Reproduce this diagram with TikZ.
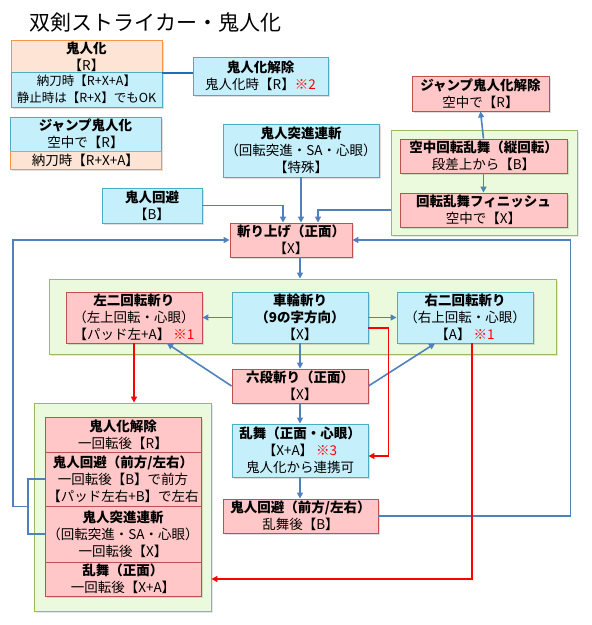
\documentclass[tikz,border=0pt]{standalone}
\usepackage{fontspec}
\setmainfont{Noto Sans CJK JP}
\usepackage{tikz}
\usetikzlibrary{arrows.meta,shadows}
\usepackage{xcolor}

\definecolor{boxpink}{RGB}{255,199,199}
\definecolor{boxred}{RGB}{192,80,77}
\definecolor{boxblue}{RGB}{198,239,252}
\definecolor{boxcyan}{RGB}{75,172,198}
\definecolor{boxorange}{RGB}{253,228,212}
\definecolor{boxamber}{RGB}{247,150,70}
\definecolor{grpfill}{RGB}{235,250,220}
\definecolor{grpline}{RGB}{155,187,89}
\definecolor{arrowblue}{RGB}{79,129,189}
\definecolor{linkblue}{RGB}{31,110,185}

\tikzset{
  box/.style={align=center, inner sep=1pt, line width=0.9pt,
    font=\fontsize{13.5}{17}\selectfont,
    drop shadow={opacity=0.25, shadow xshift=1.5pt, shadow yshift=-1.5pt}},
  pinkbox/.style={box, draw=boxred, fill=boxpink},
  bluebox/.style={box, draw=boxcyan, fill=boxblue},
  orangebox/.style={box, draw=boxamber, fill=boxorange},
  grp/.style={draw=grpline, fill=grpfill, line width=0.9pt,
    drop shadow={opacity=0.2, shadow xshift=1.5pt, shadow yshift=-1.5pt}},
  flow/.style={draw=arrowblue, line width=1.6pt, -{Triangle[length=6pt,width=6pt]}},
  plain/.style={draw=arrowblue, line width=1.6pt},
  redflow/.style={draw=red, line width=1.6pt, -{Triangle[length=6pt,width=6pt]}},
  redline/.style={draw=red, line width=1.6pt}
}

\begin{document}
\begin{tikzpicture}[x=1pt, y=-1pt]
        \useasboundingbox (0,0) rectangle (592,625);
        \node[font=\fontsize{21}{21}\selectfont] (title) at (155.5,22) {双剣ストライカー・鬼人化};

        % Groups
        \node[grp, minimum width=186, minimum height=105] (grpR) at (484,182.5) {};
        \node[grp, minimum width=507, minimum height=75] (grpM) at (302.5,316.5) {};
        \node[grp, minimum width=177, minimum height=208] (grpL) at (122.5,507) {};

        % Oni mode
        \node[orangebox, minimum width=151, minimum height=31] (oni) at (86.5,56.5) {\textbf{鬼人化}\\【R】};
        \node[bluebox, minimum width=151, minimum height=35, font=\fontsize{12.5}{17}\selectfont] (oniB) at (86.5,89.5) {納刀時【R+X+A】\\静止時は【R+X】でもOK};
        \node[bluebox, minimum width=151, minimum height=34] (jump) at (85.5,134) {\textbf{ジャンプ鬼人化}\\空中で【R】};
        \node[orangebox, minimum width=151, minimum height=18] (jumpB) at (85.5,160) {納刀時【R+X+A】};
        \node[bluebox, minimum width=135, minimum height=38] (kaijo) at (260.5,76) {\textbf{鬼人化解除}\\鬼人化時【R】{\color{red}※2}};
        \draw[draw=linkblue, line width=2.5pt] (oni.south east) -- (oni.south east -| kaijo.west);

        % Aerial
        \node[pinkbox, minimum width=137, minimum height=35] (jkaijo) at (480.5,93.5) {\textbf{ジャンプ鬼人化解除}\\空中で【R】};
        \node[pinkbox, minimum width=167, minimum height=34] (kuchu) at (483.5,156) {\textbf{空中回転乱舞（縦回転）}\\段差上から【B】};
        \node[pinkbox, minimum width=167, minimum height=34] (finish) at (483.5,210) {\textbf{回転乱舞フィニッシュ}\\空中で【X】};
        \draw[flow] (kuchu.north) -- (jkaijo.south);
        \draw[flow] (kuchu.south) -- (finish.north);

        % Upswing
        \node[bluebox, minimum width=156, minimum height=53] (totsu) at (301,150.5) {\textbf{鬼人突進連斬}\\（回転突進・SA・心眼）\\【特殊】};
        \node[bluebox, minimum width=100, minimum height=35] (kaihi) at (152,205.5) {\textbf{鬼人回避}\\【B】};
        \node[pinkbox, minimum width=122, minimum height=34] (kiri) at (291,240) {\textbf{斬り上げ（正面）}\\【X】};
        \draw[flow] (totsu.south) -- (totsu.south |- kiri.north);
        \draw[flow] (kaihi.east) -| ([xshift=-8pt]kiri.north);
        \draw[flow] (finish.west -| grpR.west) -| ([xshift=27pt]kiri.north);

        % Spins
        \node[pinkbox, minimum width=136, minimum height=51] (left2) at (134,317.5) {\textbf{左二回転斬り}\\（左上回転・心眼）\\【パッド左+A】\ {\color{red}※1}};
        \node[bluebox, minimum width=136, minimum height=51] (shar) at (300,317.5) {\textbf{車輪斬り}\\\textbf{（9の字方向）}\\【X】};
        \node[bluebox, minimum width=136, minimum height=51] (right2) at (465,317.5) {\textbf{右二回転斬り}\\（右上回転・心眼）\\【A】\ {\color{red}※1}};
        \draw[flow] (kiri.south -| shar.north) -- (grpM.north -| shar.north);
        \draw[flow] (shar.west) -- (left2.east);
        \draw[flow] (shar.east) -- (right2.west);

        % Six-hit and dance
        \node[pinkbox, minimum width=136, minimum height=34] (roku) at (300,386) {\textbf{六段斬り（正面）}\\【X】};
        \node[bluebox, minimum width=136, minimum height=53] (ranbu) at (300,450.5) {\textbf{乱舞（正面・心眼）}\\【X+A】\ {\color{red}※3}\\鬼人化から連携可};
        \node[pinkbox, minimum width=155, minimum height=34] (kaihi2) at (300.5,516) {\textbf{鬼人回避（前方/左右）}\\乱舞後【B】};
        \draw[flow] (shar.south) -- (roku.north);
        \draw[flow] (roku.west) -- ([xshift=33pt]left2.south);
        \draw[flow] (roku.east) -- ([xshift=-30pt]right2.south);
        \draw[flow] (roku.south) -- (roku.south |- ranbu.north);
        \draw[flow] (ranbu.south) -- (ranbu.south |- kaihi2.north);

        % After one spin
        \node[pinkbox, minimum width=156, minimum height=35] (L1) at (123,434.5) {\textbf{鬼人化解除}\\一回転後【R】};
        \node[pinkbox, minimum width=156, minimum height=54] (L2) at (123,479) {\textbf{鬼人回避（前方/左右）}\\一回転後【B】で前方\\【パッド左右+B】で左右};
        \node[pinkbox, minimum width=156, minimum height=56] (L3) at (123,534) {\textbf{鬼人突進連斬}\\（回転突進・SA・心眼）\\一回転後【X】};
        \node[pinkbox, minimum width=156, minimum height=34] (L4) at (123,579) {\textbf{乱舞（正面）}\\一回転後【X+A】};

        % Loops back to upswing
        \coordinate (lb) at (28,506.5);
        \coordinate (lloop) at (13,506.5);
        \draw[plain] (L2.west) -| (lb) |- (L3.west);
        \draw[flow] (lb) -- (lloop) |- (kiri.west);
        \draw[flow] (kaihi2.east) -- ++(192,0) |- (kiri.east);

        % Red links
        \draw[redflow] ([yshift=-10.5pt]shar.east) -- ++(20,0) |- ([yshift=-5.5pt]ranbu.east);
        \draw[redflow] ([xshift=7pt]right2.south) |- (grpL.east |- L4.east);
        \draw[redflow] (left2.south) -- (left2.south |- grpL.north);
\end{tikzpicture}
\end{document}
